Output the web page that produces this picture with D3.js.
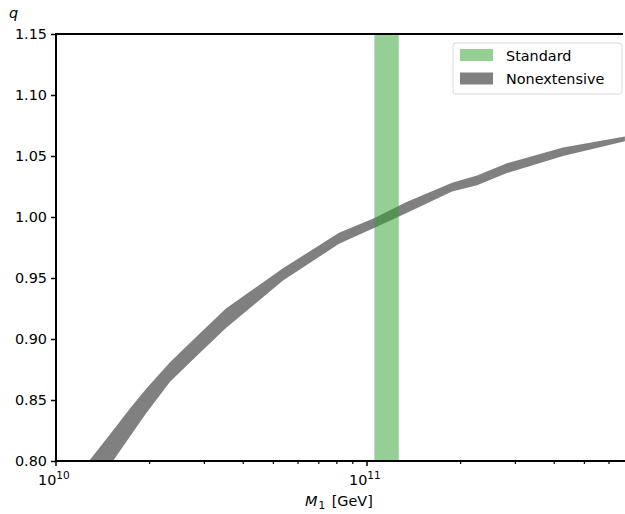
<!DOCTYPE html>
<html lang="en">
<head>
  <meta charset="utf-8">
  <script src="https://d3js.org/d3.v7.min.js"></script>
  <style>
    body { margin: 0; background: #fff; }
    svg { font-family: "DejaVu Sans", sans-serif; }
  </style>
</head>
<body>
<svg id="chart" width="625" height="514"></svg>
<script>
  // band sampled at these masses (GeV)
  const massPts = [1.11e10, 1.277e10, 1.525e10, 1.729e10, 1.947e10, 2.326e10, 2.86e10, 3.52e10, 5.37e10, 8.13e10, 1.053e11, 1.335e11, 1.877e11, 2.258e11, 2.818e11, 4.27e11, 6.75e11];
  const qUpper  = [0.780, 0.800, 0.825, 0.843, 0.859, 0.881, 0.903, 0.925, 0.958, 0.987, 0.999, 1.012, 1.028, 1.034, 1.044, 1.057, 1.066];
  const qLower  = [0.745, 0.772, 0.800, 0.820, 0.839, 0.865, 0.887, 0.909, 0.948, 0.978, 0.991, 1.003, 1.021, 1.026, 1.036, 1.050, 1.062];

  const stdRange = [1.056e11, 1.265e11];

  const yTicks = [0.80, 0.85, 0.90, 0.95, 1.00, 1.05, 1.10, 1.15];
  const legendLabels = ["Standard", "Nonextensive"];

  const fs = 14.4;

  const margin = { top: 34, left: 56, bottom: 53, right: 0 };
  const width = 625 - margin.left - margin.right;
  const height = 514 - margin.top - margin.bottom;

  const svg = d3.select('#chart')
    .append('g')
    .attr('transform', `translate(${margin.left},${margin.top})`);

  const xScale = d3.scaleLog()
    .domain([1e10, Math.pow(10, 10 + width / 311)])
    .range([0, width]);

  const yScale = d3.scaleLinear()
    .domain([0.80, 1.15])
    .range([height, 0]);

  svg.append('clipPath').attr('id', 'clip')
    .append('rect').attr('width', width).attr('height', height);

  const plot = svg.append('g').attr('clip-path', 'url(#clip)');

  const bandData = massPts.map((m, i) => ({ m: m, lo: qLower[i], hi: qUpper[i] }));

  const area = d3.area()
    .x(d => xScale(d.m))
    .y0(d => yScale(d.lo))
    .y1(d => yScale(d.hi));

  plot.append('path')
    .datum(bandData)
    .attr('d', area)
    .attr('fill', '#808080');

  plot.append('rect')
    .attr('x', xScale(stdRange[0]))
    .attr('width', xScale(stdRange[1]) - xScale(stdRange[0]))
    .attr('y', 0)
    .attr('height', height)
    .attr('fill', '#2ca02c')
    .attr('fill-opacity', 0.5);

  // axes
  const yAxis = d3.axisLeft(yScale)
    .tickValues(yTicks)
    .tickFormat(d3.format('.2f'))
    .tickSize(5)
    .tickPadding(4);

  const yg = svg.append('g').call(yAxis);
  yg.select('.domain').remove();
  yg.selectAll('line').attr('stroke', '#000').attr('stroke-width', 1.5);
  yg.selectAll('text').attr('font-size', fs).attr('fill', '#000')
    .attr('font-family', '"DejaVu Sans", sans-serif');

  const majorX = [1e10, 1e11];
  const minorX = [];
  for (let e = 10; e <= 11; e++) {
    for (let k = 2; k <= 9; k++) {
      const v = k * Math.pow(10, e);
      if (v <= xScale.domain()[1]) minorX.push(v);
    }
  }

  const xg = svg.append('g').attr('transform', `translate(0,${height})`);
  xg.selectAll('.minor').data(minorX).enter().append('line')
    .attr('x1', d => xScale(d)).attr('x2', d => xScale(d))
    .attr('y1', 0).attr('y2', 3)
    .attr('stroke', '#000').attr('stroke-width', 1.2);
  xg.selectAll('.major').data(majorX).enter().append('line')
    .attr('x1', d => xScale(d)).attr('x2', d => xScale(d))
    .attr('y1', 0).attr('y2', 5)
    .attr('stroke', '#000').attr('stroke-width', 1.5);
  const xl = xg.selectAll('.lbl').data(majorX).enter().append('text')
    .attr('x', d => xScale(d) - 18)
    .attr('y', 24)
    .attr('font-size', fs);
  xl.append('tspan').text('10');
  xl.append('tspan').attr('dy', -6).attr('font-size', 10.5)
    .text(d => Math.round(Math.log10(d)));

  // spines (left, top, bottom)
  svg.append('line').attr('x1', 0).attr('x2', 0).attr('y1', 0).attr('y2', height)
    .attr('stroke', '#000').attr('stroke-width', 2);
  svg.append('line').attr('x1', -1).attr('x2', width - 2).attr('y1', 0).attr('y2', 0)
    .attr('stroke', '#000').attr('stroke-width', 2);
  svg.append('line').attr('x1', -1).attr('x2', width).attr('y1', height).attr('y2', height)
    .attr('stroke', '#000').attr('stroke-width', 2);

  // axis labels
  const xlab = svg.append('text')
    .attr('x', 305 - margin.left)
    .attr('y', height + 45)
    .attr('font-size', fs);
  xlab.append('tspan').attr('font-style', 'italic').text('M');
  xlab.append('tspan').attr('font-size', 10.5).attr('dx', 1).attr('dy', 3).text('1');
  xlab.append('tspan').attr('dy', -3).attr('dx', 2).text(' [GeV]');

  svg.append('text')
    .attr('x', -47)
    .attr('y', -16)
    .attr('font-size', fs)
    .attr('font-style', 'italic')
    .text('q');

  // legend
  const legend = svg.append('g').attr('transform', `translate(${453 - margin.left},${43 - margin.top})`);
  legend.append('rect')
    .attr('width', 169).attr('height', 51)
    .attr('rx', 3)
    .attr('fill', '#fff').attr('fill-opacity', 0.8)
    .attr('stroke', '#d9d9d9');
  const colors = [{ c: '#2ca02c', o: 0.5 }, { c: '#808080', o: 1 }];
  legendLabels.forEach((lab, i) => {
    legend.append('rect')
      .attr('x', 7).attr('y', 6 + i * 23.5)
      .attr('width', 33).attr('height', 12)
      .attr('fill', colors[i].c).attr('fill-opacity', colors[i].o);
    legend.append('text')
      .attr('x', 53).attr('y', 17.5 + i * 23.5)
      .attr('font-size', fs)
      .text(lab);
  });
</script>
</body>
</html>
